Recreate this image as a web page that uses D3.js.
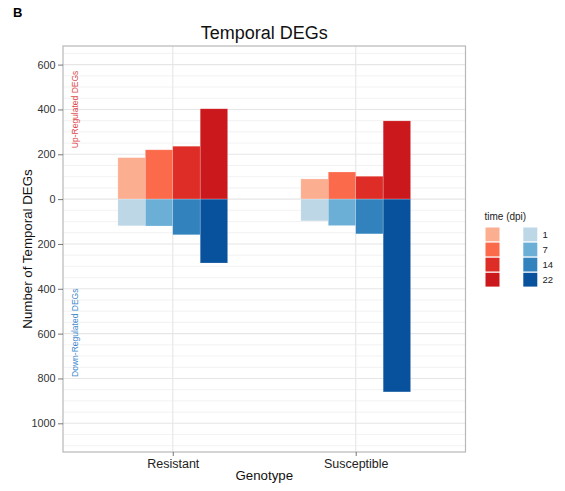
<!DOCTYPE html>
<html>
<head>
<meta charset="utf-8">
<script src="https://cdn.jsdelivr.net/npm/d3@7/dist/d3.min.js"></script>
<style>
  html, body { margin: 0; padding: 0; background: #fff; }
  svg { display: block; font-family: "Liberation Sans", Arial, Helvetica, sans-serif; }
</style>
</head>
<body>
<svg id="chart" width="565" height="491"></svg>
<script>
// Genotypes on the x axis and sampling times (days post inoculation)
const genotypes = ["Resistant", "Susceptible"];
const times = ["1", "7", "14", "22"];

// Number of up-regulated DEGs per genotype, one value per time point
const upResistant = [185, 220, 236, 403];
const upSusceptible = [90, 121, 102, 349];
// Number of down-regulated DEGs per genotype, one value per time point
const downResistant = [119, 120, 159, 285];
const downSusceptible = [97, 118, 155, 860];

// y tick values (down-regulated counts sit below zero)
const yTicks = [-1000, -800, -600, -400, -200, 0, 200, 400, 600];

const upColors = ["#FCAE91", "#FB6A4A", "#DE2D26", "#CB181D"];
const downColors = ["#BDD7E7", "#6BAED6", "#3182BD", "#08519C"];

const upByGenotype = { Resistant: upResistant, Susceptible: upSusceptible };
const downByGenotype = { Resistant: downResistant, Susceptible: downSusceptible };

const rows = [];
genotypes.forEach(g => {
  times.forEach((t, i) => {
    rows.push({ genotype: g, time: t, dir: "up", value: upByGenotype[g][i], color: upColors[i] });
    rows.push({ genotype: g, time: t, dir: "down", value: -downByGenotype[g][i], color: downColors[i] });
  });
});

const svg = d3.select("#chart");
const panel = { left: 63, right: 465.5, top: 46, bottom: 452 };

const x = d3.scalePoint().domain(genotypes).range([panel.left, panel.right]).padding(0.6);
const step = x.step();
const xSub = d3.scaleBand().domain(times).range([-0.3 * step, 0.3 * step]);

const y = d3.scaleLinear().domain([-1128, 683]).range([panel.bottom, panel.top]);

// panel grid: lines every 50, stronger at labelled breaks
const grid = svg.append("g");
d3.range(-1100, 700, 50).forEach(v => {
  const major = v % 200 === 0;
  grid.append("line")
    .attr("x1", panel.left).attr("x2", panel.right)
    .attr("y1", y(v)).attr("y2", y(v))
    .attr("stroke", major ? "#e6e6e6" : "#efefef")
    .attr("stroke-width", major ? 1.1 : 0.8);
});
genotypes.forEach(g => {
  grid.append("line")
    .attr("x1", x(g)).attr("x2", x(g))
    .attr("y1", panel.top).attr("y2", panel.bottom)
    .attr("stroke", "#e6e6e6").attr("stroke-width", 1.1);
});

// bars
svg.append("g").selectAll("rect").data(rows).join("rect")
  .attr("x", d => x(d.genotype) + xSub(d.time))
  .attr("width", xSub.bandwidth())
  .attr("y", d => y(Math.max(0, d.value)))
  .attr("height", d => Math.abs(y(d.value) - y(0)))
  .attr("fill", d => d.color)
  .attr("stroke", "#ffffff").attr("stroke-opacity", 0.35).attr("stroke-width", 0.6);

// direction annotations
svg.append("text")
  .attr("transform", `translate(77.5,${y(400)}) rotate(-90)`)
  .attr("text-anchor", "middle")
  .attr("font-size", 8.5).attr("fill", "#E0484B")
  .text("Up-Regulated DEGs");
svg.append("text")
  .attr("transform", `translate(77.5,${y(-596)}) rotate(-90)`)
  .attr("text-anchor", "middle")
  .attr("font-size", 8.5).attr("fill", "#3F8ACD")
  .text("Down-Regulated DEGs");

// panel border
svg.append("rect")
  .attr("x", panel.left).attr("y", panel.top)
  .attr("width", panel.right - panel.left).attr("height", panel.bottom - panel.top)
  .attr("fill", "none").attr("stroke", "#b8b8b8").attr("stroke-width", 1.2);

// y axis
const yAxis = d3.axisLeft(y).tickValues(yTicks).tickSize(5).tickPadding(2.5)
  .tickFormat(d => Math.abs(d));
const gy = svg.append("g").attr("transform", `translate(${panel.left},0)`).call(yAxis);
gy.select(".domain").remove();
gy.selectAll(".tick line").attr("stroke", "#555").attr("stroke-width", 0.8);
gy.selectAll(".tick text").attr("font-size", 10.8).attr("fill", "#333")
  .attr("font-family", "Liberation Sans, Arial, sans-serif");

// x axis
const xAxis = d3.axisBottom(x).tickSize(4).tickPadding(3);
const gx = svg.append("g").attr("transform", `translate(0,${panel.bottom})`).call(xAxis);
gx.select(".domain").remove();
gx.selectAll(".tick line").attr("stroke", "#555").attr("stroke-width", 0.8);
gx.selectAll(".tick text").attr("font-size", 12.5).attr("fill", "#222")
  .attr("font-family", "Liberation Sans, Arial, sans-serif");

// titles
svg.append("text").attr("x", (panel.left + panel.right) / 2).attr("y", 39)
  .attr("text-anchor", "middle").attr("font-size", 18).attr("fill", "#111")
  .text("Temporal DEGs");
svg.append("text").attr("x", (panel.left + panel.right) / 2).attr("y", 480)
  .attr("text-anchor", "middle").attr("font-size", 13.3).attr("fill", "#111")
  .text("Genotype");
svg.append("text")
  .attr("transform", `translate(32,${(panel.top + panel.bottom) / 2}) rotate(-90)`)
  .attr("text-anchor", "middle").attr("font-size", 13.3).attr("fill", "#111")
  .text("Number of Temporal DEGs");
svg.append("text").attr("x", 13).attr("y", 17)
  .attr("font-size", 13).attr("font-weight", "bold").attr("fill", "#000")
  .text("B");

// legend
const legend = svg.append("g");
legend.append("text").attr("x", 484.5).attr("y", 220)
  .attr("font-size", 10).attr("fill", "#222").text("time (dpi)");
times.forEach((t, i) => {
  const top = 227.5 + i * 15.1;
  legend.append("rect").attr("x", 485.5).attr("y", top).attr("width", 14).attr("height", 13.8)
    .attr("fill", upColors[i]);
  legend.append("rect").attr("x", 523.3).attr("y", top).attr("width", 14).attr("height", 13.8)
    .attr("fill", downColors[i]);
  legend.append("text").attr("x", 542.5).attr("y", top + 7).attr("dy", "0.35em")
    .attr("font-size", 9.5).attr("fill", "#222").text(t);
});
</script>
</body>
</html>
